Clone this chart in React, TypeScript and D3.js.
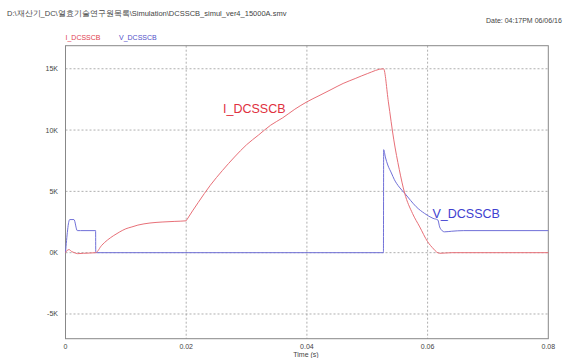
import React from 'react';
import * as d3 from 'd3';

const titleText = 'D:\\재산기_DC\\열효기술연구원목록\\Simulation\\DCSSCB_simul_ver4_15000A.smv';
const dateText = 'Date: 04:17PM 06/06/16';

const xTicks = [0, 0.02, 0.04, 0.06, 0.08];
const xTickLabels = ['0', '0.02', '0.04', '0.06', '0.08'];
const yTicks = [-5000, 0, 5000, 10000, 15000];
const yTickLabels = ['-5K', '0K', '5K', '10K', '15K'];

// I_DCSSCB (A)
const iTime = [
  0, 0.0003, 0.0006, 0.001, 0.0015, 0.002, 0.003, 0.005,
  0.006, 0.007, 0.008, 0.009, 0.01, 0.011, 0.012, 0.013, 0.014, 0.016, 0.018, 0.02, 0.0201,
  0.022, 0.024, 0.026, 0.028, 0.03, 0.032, 0.034, 0.036, 0.038, 0.04,
  0.042, 0.044, 0.046, 0.048, 0.05, 0.0527,
  0.0535, 0.0544, 0.0553, 0.0562, 0.0575, 0.0587, 0.06, 0.061, 0.0615, 0.062, 0.064, 0.08,
];
const iValues = [
  0, 200, 250, 100, 0, -80, -50, 0,
  600, 1050, 1400, 1700, 1950, 2100, 2250, 2350, 2420, 2500, 2550, 2600, 2680,
  4100, 5500, 6700, 7800, 8800, 9600, 10400, 11000, 11700, 12300,
  12800, 13300, 13800, 14200, 14600, 15000,
  12300, 9200, 6800, 4850, 3200, 2100, 900, 300, 50, -50, 0, 0,
];

// V_DCSSCB (V)
const vTime = [
  0, 0.0007, 0.0014, 0.00195, 0.0025, 0.00499, 0.00501,
  0.05268, 0.05272, 0.053, 0.0534, 0.054, 0.0545, 0.0553, 0.0562, 0.0572, 0.0581,
  0.0595, 0.0609, 0.0617, 0.062, 0.0623, 0.0628, 0.064, 0.066, 0.08,
];
const vValues = [
  0, 2700, 2700, 1800, 1800, 1800, 0,
  0, 8400, 7800, 7150, 6500, 5950, 5350, 4850, 4250, 3750,
  3200, 2800, 2670, 2100, 1850, 1700, 1750, 1800, 1800,
];

const left = 65.5;
const right = 548.3;
const top = 45.7;
const bottom = 338.7;

const App = () => {
  const x = d3.scaleLinear().domain([0, 0.08]).range([left, right]);
  const y = d3.scaleLinear().domain([-7015, 16880]).range([bottom, top]);

  const lineGen = d3.line<[number, number]>()
    .x(d => x(d[0]))
    .y(d => y(d[1]))
    .curve(d3.curveMonotoneX);

  const iPath = lineGen(iTime.map((t, k) => [t, iValues[k]] as [number, number])) || '';
  const vPath = lineGen(vTime.map((t, k) => [t, vValues[k]] as [number, number])) || '';

  const font = 'Liberation Sans, Arial, sans-serif';
  const grid = '#9a9a9a';

  return (
    <svg width={567} height={358} style={{ position: 'absolute', left: 0, top: 0 }}>
      <rect width={567} height={358} fill="#fff" />
      <text x={7} y={16} fontSize={7.5} fontFamily={font} fill="#444">{titleText}</text>
      <text x={486} y={23} fontSize={7} fontFamily={font} fill="#444">{dateText}</text>

      <text x={65.5} y={40} fontSize={7} fontFamily={font} fill="#e04050">I_DCSSCB</text>
      <text x={119} y={40} fontSize={7} fontFamily={font} fill="#5050c8">V_DCSSCB</text>

      {xTicks.slice(1, -1).map(t => (
        <line key={'gx' + t} x1={x(t)} x2={x(t)} y1={top} y2={bottom}
          stroke={grid} strokeWidth={0.8} strokeDasharray="2,2" />
      ))}
      {yTicks.map(v => (
        <line key={'gy' + v} x1={left} x2={right} y1={y(v)} y2={y(v)}
          stroke={grid} strokeWidth={0.8} strokeDasharray="2,2" />
      ))}
      <rect x={left} y={top} width={right - left} height={bottom - top}
        fill="none" stroke="#888" strokeWidth={1} />

      {yTicks.map((v, k) => (
        <text key={'ty' + v} x={58} y={y(v) + 2.5} fontSize={7} fontFamily={font}
          fill="#444" textAnchor="end">{yTickLabels[k]}</text>
      ))}
      {xTicks.map((t, k) => (
        <text key={'tx' + t} x={x(t)} y={349} fontSize={7} fontFamily={font}
          fill="#444" textAnchor="middle">{xTickLabels[k]}</text>
      ))}
      <text x={306} y={357} fontSize={7} fontFamily={font} fill="#444" textAnchor="middle">Time (s)</text>

      <path d={vPath} fill="none" stroke="#7070d8" strokeWidth={1} />
      <path d={iPath} fill="none" stroke="#e87078" strokeWidth={1} />

      <text x={223} y={112.5} fontSize={12.5} fontFamily={font} fill="#e03040">I_DCSSCB</text>
      <text x={432.5} y={218} fontSize={12.5} fontFamily={font} fill="#4040d0">V_DCSSCB</text>
    </svg>
  );
};

export default App;
